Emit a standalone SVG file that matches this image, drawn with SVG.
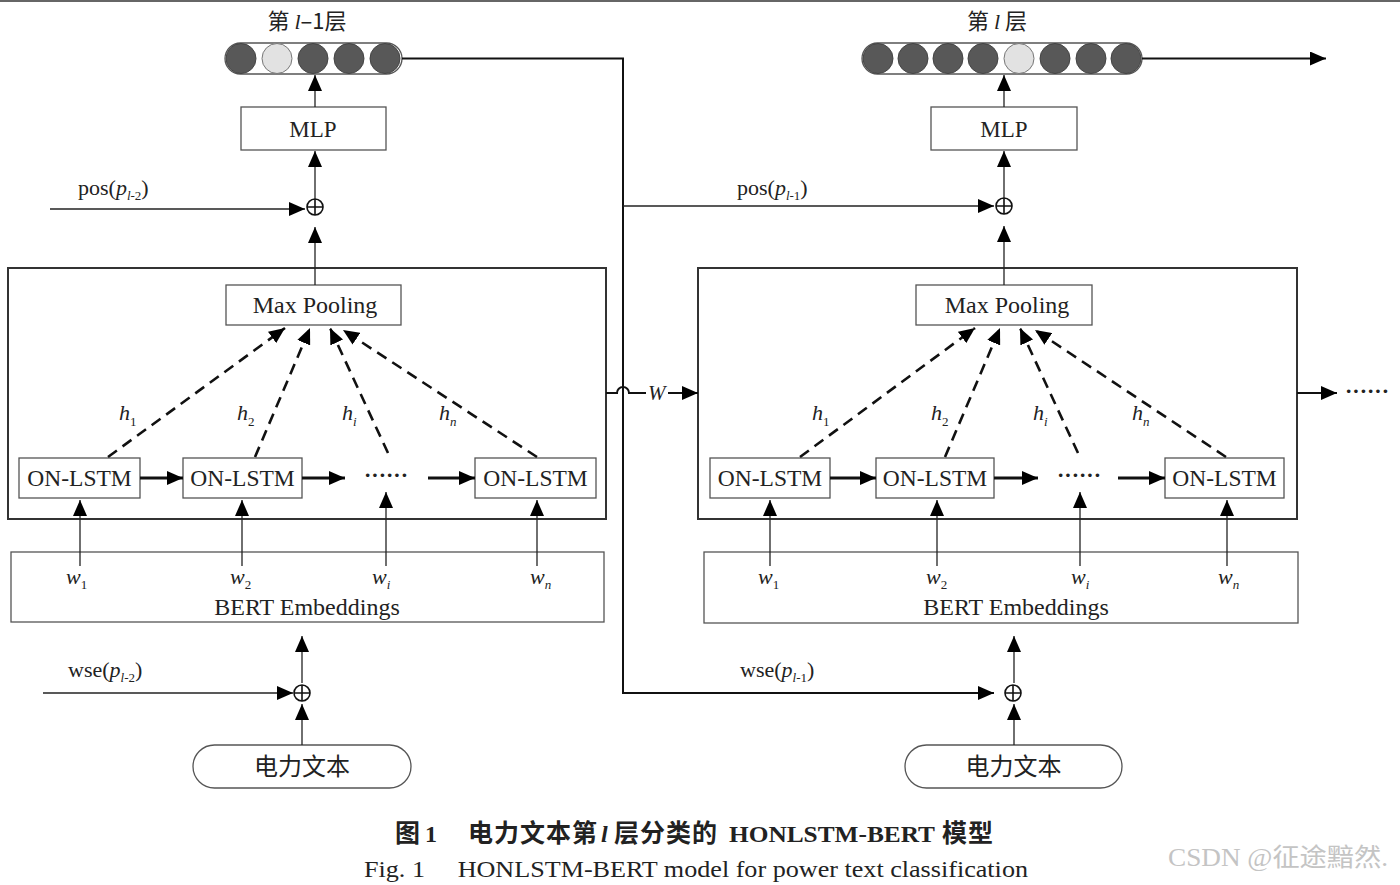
<svg xmlns="http://www.w3.org/2000/svg" width="1400" height="885" viewBox="0 0 1400 885">
<defs>
<marker id="ahb" viewBox="0 0 16 14" refX="16" refY="7" markerWidth="16" markerHeight="14" markerUnits="userSpaceOnUse" orient="auto"><path d="M0,0 L16,7 L0,14 z" fill="#000"/></marker>
<style>
text{font-family:"Liberation Serif","Noto Sans CJK SC",serif;fill:#222}
.cjk{font-family:"Noto Sans CJK SC","Liberation Serif",sans-serif}
.box{fill:#fff;stroke:#555;stroke-width:1.3}
.outer{fill:none;stroke:#333;stroke-width:2}
.ln{fill:none;stroke:#222;stroke-width:1.3}
.lnb{fill:none;stroke:#111;stroke-width:2}
.thk{fill:none;stroke:#111;stroke-width:3}
.dash{fill:none;stroke:#111;stroke-width:2.6;stroke-dasharray:11 7}
.dark{fill:#585858;stroke:#444;stroke-width:1}
.light{fill:#e2e2e2;stroke:#777;stroke-width:1}
.pill{fill:#fff;stroke:#555;stroke-width:1.3}
.lbl{font-size:23.5px}
.it{font-style:italic}
.sub{font-size:13px}
.cap{font-size:24px;font-weight:bold}
.capc{font-size:25px;font-weight:bold;letter-spacing:1px}
</style>
</defs>
<rect x="0" y="0" width="1400" height="885" fill="#fff"/>
<rect x="0" y="0" width="1400" height="2" fill="#666"/>

<!-- ===== LEFT COLUMN ===== -->
<g id="title-l1">
<text x="307" y="29" text-anchor="middle" font-size="22" class="cjk">第 <tspan class="it" font-family="Liberation Serif">l</tspan>–1层</text>
</g>
<g id="layer-l1">
<rect x="225" y="43" width="177" height="31" rx="15.5" class="pill"/>
<circle cx="241" cy="58.5" r="15" class="dark"/>
<circle cx="277" cy="58.5" r="15" class="light"/>
<circle cx="313" cy="58.5" r="15" class="dark"/>
<circle cx="349" cy="58.5" r="15" class="dark"/>
<circle cx="385" cy="58.5" r="15" class="dark"/>
</g>
<g id="mlp-l">
<rect x="241" y="107" width="145" height="43" class="box"/>
<text x="313" y="137" text-anchor="middle" font-size="23">MLP</text>
</g>
<g id="plus-pos-l">
<circle cx="315" cy="207" r="8" fill="#fff" stroke="#111" stroke-width="1.6"/>
<path d="M307,207 H323 M315,199 V215" stroke="#111" stroke-width="1.6"/>
</g>
<g id="pos-l-label">
<text x="78" y="195" font-size="22">pos(<tspan class="it">p</tspan><tspan class="it sub" dy="5">l</tspan><tspan class="sub">-2</tspan><tspan dy="-5">)</tspan></text>
</g>
<g id="encoder-l">
<rect x="8" y="268" width="598" height="251" class="outer"/>
</g>
<g id="maxpool-l">
<rect x="226" y="285" width="175" height="40" class="box"/>
<text x="315" y="313" text-anchor="middle" font-size="24">Max Pooling</text>
</g>
<g id="onlstm-l1"><rect x="19" y="458" width="121" height="40" class="box"/><text x="79.5" y="486" text-anchor="middle" class="lbl">ON-LSTM</text></g>
<g id="onlstm-l2"><rect x="183" y="458" width="119" height="40" class="box"/><text x="242.5" y="486" text-anchor="middle" class="lbl">ON-LSTM</text></g>
<g id="dots-l"><text x="386" y="482" text-anchor="middle" font-size="22" font-weight="bold">······</text></g>
<g id="onlstm-ln"><rect x="475" y="458" width="121" height="40" class="box"/><text x="535.5" y="486" text-anchor="middle" class="lbl">ON-LSTM</text></g>
<g id="hlabels-l">
<text x="119" y="420" font-size="22" class="it">h<tspan class="sub" dy="6" font-style="normal">1</tspan></text>
<text x="237" y="420" font-size="22" class="it">h<tspan class="sub" dy="6" font-style="normal">2</tspan></text>
<text x="342" y="420" font-size="22" class="it">h<tspan class="sub" dy="6">i</tspan></text>
<text x="439" y="420" font-size="22" class="it">h<tspan class="sub" dy="6">n</tspan></text>
</g>
<g id="bert-l">
<rect x="11" y="552" width="593" height="70" class="box"/>
<text x="66" y="584" font-size="22" class="it">w<tspan class="sub" dy="5" font-style="normal">1</tspan></text>
<text x="230" y="584" font-size="22" class="it">w<tspan class="sub" dy="5" font-style="normal">2</tspan></text>
<text x="372" y="584" font-size="22" class="it">w<tspan class="sub" dy="5">i</tspan></text>
<text x="530" y="584" font-size="22" class="it">w<tspan class="sub" dy="5">n</tspan></text>
<text x="307" y="615" text-anchor="middle" font-size="24">BERT Embeddings</text>
</g>
<g id="plus-wse-l">
<circle cx="302" cy="693" r="8" fill="#fff" stroke="#111" stroke-width="1.6"/>
<path d="M294,693 H310 M302,685 V701" stroke="#111" stroke-width="1.6"/>
</g>
<g id="wse-l-label">
<text x="68" y="677" font-size="22">wse(<tspan class="it">p</tspan><tspan class="it sub" dy="5">l</tspan><tspan class="sub">-2</tspan><tspan dy="-5">)</tspan></text>
</g>
<g id="text-l">
<rect x="193" y="745" width="218" height="43" rx="21.5" class="pill"/>
<text x="302" y="775" text-anchor="middle" font-size="24" class="cjk">电力文本</text>
</g>

<!-- ===== RIGHT COLUMN ===== -->
<g id="title-l">
<text x="997" y="29" text-anchor="middle" font-size="22" class="cjk">第 <tspan class="it" font-family="Liberation Serif">l</tspan> 层</text>
</g>
<g id="layer-l">
<rect x="862" y="43" width="280" height="31" rx="15.5" class="pill"/>
<circle cx="878" cy="58.5" r="15" class="dark"/>
<circle cx="913" cy="58.5" r="15" class="dark"/>
<circle cx="948" cy="58.5" r="15" class="dark"/>
<circle cx="983" cy="58.5" r="15" class="dark" stroke="#222"/>
<circle cx="1019" cy="58.5" r="15" class="light"/>
<circle cx="1055" cy="58.5" r="15" class="dark"/>
<circle cx="1091" cy="58.5" r="15" class="dark"/>
<circle cx="1126" cy="58.5" r="15" class="dark"/>
</g>
<g id="mlp-r">
<rect x="931" y="107" width="146" height="43" class="box"/>
<text x="1004" y="137" text-anchor="middle" font-size="23">MLP</text>
</g>
<g id="plus-pos-r">
<circle cx="1004" cy="206" r="8" fill="#fff" stroke="#111" stroke-width="1.6"/>
<path d="M996,206 H1012 M1004,198 V214" stroke="#111" stroke-width="1.6"/>
</g>
<g id="pos-r-label">
<text x="737" y="195" font-size="22">pos(<tspan class="it">p</tspan><tspan class="it sub" dy="5">l</tspan><tspan class="sub">-1</tspan><tspan dy="-5">)</tspan></text>
</g>
<g id="encoder-r">
<rect x="698" y="268" width="599" height="251" class="outer"/>
</g>
<g id="maxpool-r">
<rect x="916" y="285" width="176" height="40" class="box"/>
<text x="1007" y="313" text-anchor="middle" font-size="24">Max Pooling</text>
</g>
<g id="onlstm-r1"><rect x="710" y="458" width="120" height="40" class="box"/><text x="770" y="486" text-anchor="middle" class="lbl">ON-LSTM</text></g>
<g id="onlstm-r2"><rect x="876" y="458" width="118" height="40" class="box"/><text x="935" y="486" text-anchor="middle" class="lbl">ON-LSTM</text></g>
<g id="dots-r"><text x="1079" y="482" text-anchor="middle" font-size="22" font-weight="bold">······</text></g>
<g id="onlstm-rn"><rect x="1165" y="458" width="119" height="40" class="box"/><text x="1224.5" y="486" text-anchor="middle" class="lbl">ON-LSTM</text></g>
<g id="hlabels-r">
<text x="812" y="420" font-size="22" class="it">h<tspan class="sub" dy="6" font-style="normal">1</tspan></text>
<text x="931" y="420" font-size="22" class="it">h<tspan class="sub" dy="6" font-style="normal">2</tspan></text>
<text x="1033" y="420" font-size="22" class="it">h<tspan class="sub" dy="6">i</tspan></text>
<text x="1132" y="420" font-size="22" class="it">h<tspan class="sub" dy="6">n</tspan></text>
</g>
<g id="bert-r">
<rect x="704" y="552" width="594" height="71" class="box"/>
<text x="758" y="584" font-size="22" class="it">w<tspan class="sub" dy="5" font-style="normal">1</tspan></text>
<text x="926" y="584" font-size="22" class="it">w<tspan class="sub" dy="5" font-style="normal">2</tspan></text>
<text x="1071" y="584" font-size="22" class="it">w<tspan class="sub" dy="5">i</tspan></text>
<text x="1218" y="584" font-size="22" class="it">w<tspan class="sub" dy="5">n</tspan></text>
<text x="1016" y="615" text-anchor="middle" font-size="24">BERT Embeddings</text>
</g>
<g id="plus-wse-r">
<circle cx="1013" cy="693" r="8" fill="#fff" stroke="#111" stroke-width="1.6"/>
<path d="M1005,693 H1021 M1013,685 V701" stroke="#111" stroke-width="1.6"/>
</g>
<g id="wse-r-label">
<text x="740" y="677" font-size="22">wse(<tspan class="it">p</tspan><tspan class="it sub" dy="5">l</tspan><tspan class="sub">-1</tspan><tspan dy="-5">)</tspan></text>
</g>
<g id="text-r">
<rect x="905" y="745" width="217" height="43" rx="21.5" class="pill"/>
<text x="1013.5" y="775" text-anchor="middle" font-size="24" class="cjk">电力文本</text>
</g>
<g id="w-label"><text x="648" y="400" font-size="21" class="it">W</text></g>
<g id="more-dots"><text x="1367" y="398" text-anchor="middle" font-size="22" font-weight="bold">······</text></g>

<!-- ===== CONNECTORS ===== -->
<g id="connectors">
<path d="M315,107 V75" class="ln" marker-end="url(#ahb)"/>
<path d="M315,199 V151" class="ln" marker-end="url(#ahb)"/>
<path d="M315,285 V227" class="ln" marker-end="url(#ahb)"/>
<path d="M50,209 H305" class="ln" marker-end="url(#ahb)"/>
<path d="M80,566 V500" class="ln" marker-end="url(#ahb)"/>
<path d="M242,566 V500" class="ln" marker-end="url(#ahb)"/>
<path d="M386,566 V492" class="ln" marker-end="url(#ahb)"/>
<path d="M537,566 V500" class="ln" marker-end="url(#ahb)"/>
<path d="M140,478 H183" class="thk" marker-end="url(#ahb)"/>
<path d="M302,478 H345" class="thk" marker-end="url(#ahb)"/>
<path d="M428,478 H475" class="thk" marker-end="url(#ahb)"/>
<path d="M108,457 L285,328" class="dash" marker-end="url(#ahb)"/>
<path d="M255,457 L310,328" class="dash" marker-end="url(#ahb)"/>
<path d="M388,453 L330,328" class="dash" marker-end="url(#ahb)"/>
<path d="M537,457 L343,330" class="dash" marker-end="url(#ahb)"/>
<path d="M302,683 V636" class="ln" marker-end="url(#ahb)"/>
<path d="M302,745 V704" class="ln" marker-end="url(#ahb)"/>
<path d="M43,693 H293" class="ln" marker-end="url(#ahb)"/>
<path d="M402,58.5 H623 V693 H994" class="lnb" marker-end="url(#ahb)"/>
<path d="M623,206 H994" class="ln" marker-end="url(#ahb)"/>
<path d="M606,393 H617 A6,6 0 0 1 629,393 H646" class="lnb"/>
<path d="M668,393 H698" class="lnb" marker-end="url(#ahb)"/>
<path d="M1004,107 V75" class="ln" marker-end="url(#ahb)"/>
<path d="M1004,198 V151" class="ln" marker-end="url(#ahb)"/>
<path d="M1004,285 V226" class="ln" marker-end="url(#ahb)"/>
<path d="M1142,58.5 H1326" class="lnb" marker-end="url(#ahb)"/>
<path d="M770,566 V500" class="ln" marker-end="url(#ahb)"/>
<path d="M937,566 V500" class="ln" marker-end="url(#ahb)"/>
<path d="M1080,566 V492" class="ln" marker-end="url(#ahb)"/>
<path d="M1227,566 V500" class="ln" marker-end="url(#ahb)"/>
<path d="M830,478 H876" class="thk" marker-end="url(#ahb)"/>
<path d="M994,478 H1038" class="thk" marker-end="url(#ahb)"/>
<path d="M1118,478 H1165" class="thk" marker-end="url(#ahb)"/>
<path d="M800,457 L975,328" class="dash" marker-end="url(#ahb)"/>
<path d="M945,457 L1000,328" class="dash" marker-end="url(#ahb)"/>
<path d="M1078,453 L1020,328" class="dash" marker-end="url(#ahb)"/>
<path d="M1226,457 L1035,330" class="dash" marker-end="url(#ahb)"/>
<path d="M1014,683 V636" class="ln" marker-end="url(#ahb)"/>
<path d="M1014,745 V704" class="ln" marker-end="url(#ahb)"/>
<path d="M1297,393 H1337" class="lnb" marker-end="url(#ahb)"/>
</g>

<!-- ===== CAPTION ===== -->
<g id="caption">
<text x="395" y="842" class="capc cjk">图</text>
<text x="425" y="842" class="cap">1</text>
<text x="468" y="842" class="capc cjk">电力文本第</text>
<text x="601" y="842" class="cap it">l</text>
<text x="614" y="842" class="capc cjk">层分类的</text>
<text x="729" y="842" class="cap" textLength="206" lengthAdjust="spacingAndGlyphs">HONLSTM-BERT</text>
<text x="942" y="842" class="capc cjk">模型</text>
<text x="364" y="877" font-size="24" textLength="664" lengthAdjust="spacingAndGlyphs">Fig. 1　 HONLSTM-BERT model for power text classification</text>
</g>
<g id="watermark">
<text x="1168" y="866" font-size="25" style="fill:#c4c4c4" font-family="Liberation Sans, Noto Sans CJK SC, sans-serif" textLength="220" lengthAdjust="spacingAndGlyphs">CSDN @征途黯然.</text>
</g>
</svg>
